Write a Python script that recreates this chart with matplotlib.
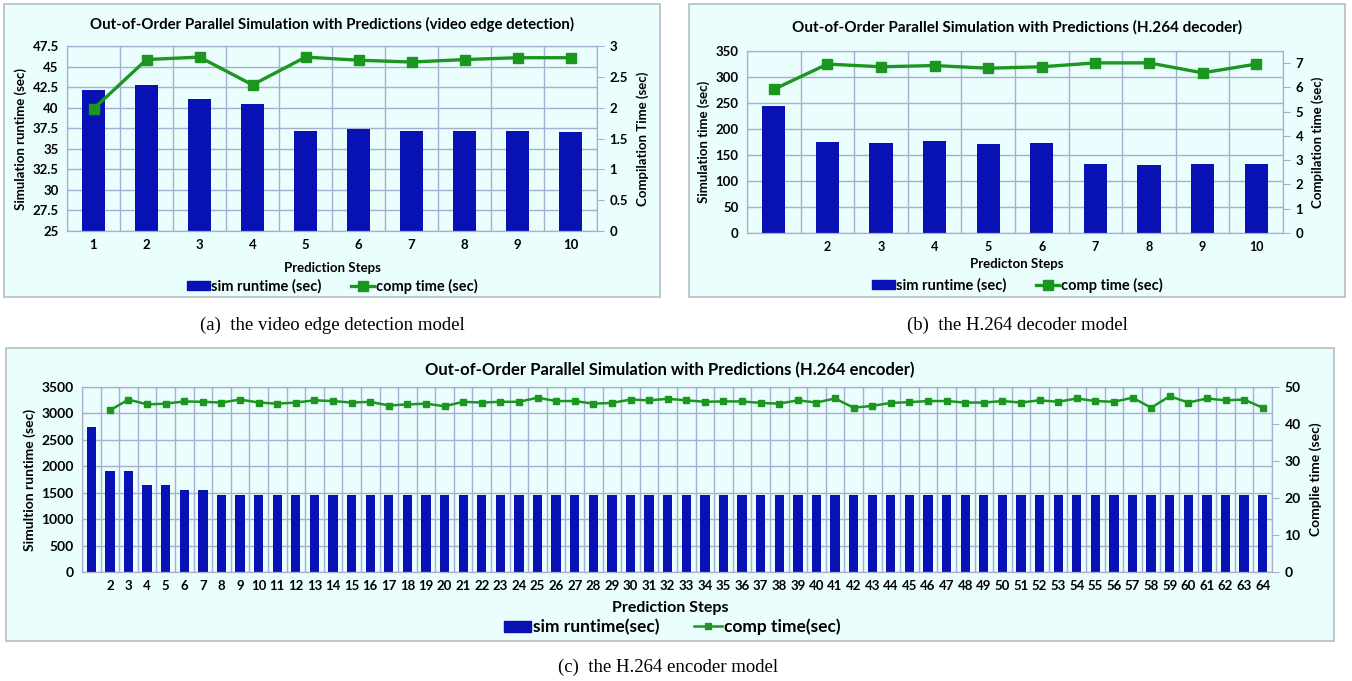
import numpy as np
import matplotlib
matplotlib.use("Agg")
import matplotlib.pyplot as plt
from matplotlib.patches import Rectangle
from matplotlib.lines import Line2D

# figure size in pixels
W = 1352
H = 681

# (a) video edge detection
edge_steps = list(range(1, 11))
edge_labels = [str(s) for s in edge_steps]
edge_sim = [42.2, 42.7, 41.1, 40.5, 37.2, 37.4, 37.2, 37.2, 37.2, 37.1]
edge_comp = [1.98, 2.78, 2.82, 2.37, 2.82, 2.77, 2.74, 2.78, 2.81, 2.81]

# (b) H.264 decoder
dec_steps = list(range(1, 11))
dec_labels = [""] + [str(s) for s in dec_steps[1:]]
dec_sim = [245, 175, 173, 177, 171, 173, 133, 131, 133, 133]
dec_comp = [5.92, 6.96, 6.85, 6.90, 6.79, 6.85, 7.01, 7.01, 6.60, 6.96]

# (c) H.264 encoder
enc_steps = list(range(1, 65))
enc_labels = [""] + [str(s) for s in enc_steps[1:]]
enc_sim = [2750, 1920, 1920, 1650, 1650, 1550, 1550, 1450, 1450, 1450,
           1460, 1450, 1460, 1460, 1460, 1460, 1460, 1460, 1460, 1460,
           1460, 1460, 1460, 1460, 1460, 1460, 1460, 1460, 1460, 1460,
           1460, 1460, 1460, 1460, 1460, 1460, 1460, 1460, 1460, 1460,
           1460, 1460, 1460, 1460, 1460, 1460, 1460, 1460, 1460, 1460,
           1460, 1460, 1460, 1460, 1460, 1460, 1460, 1460, 1460, 1460,
           1460, 1460, 1450, 1450]
enc_comp = [None, 43.7, 46.6, 45.3, 45.5, 46.1, 46.0, 45.8, 46.6, 45.8,
            45.5, 45.8, 46.4, 46.2, 45.8, 46.0, 45.0, 45.3, 45.5, 44.8,
            46.0, 45.8, 46.0, 46.0, 47.1, 46.2, 46.2, 45.5, 45.7, 46.6,
            46.4, 46.8, 46.4, 46.0, 46.1, 46.1, 45.7, 45.5, 46.4, 45.8,
            46.9, 44.4, 44.9, 45.7, 45.9, 46.2, 46.2, 45.8, 45.8, 46.2,
            45.8, 46.4, 46.0, 46.9, 46.2, 46.0, 47.1, 44.4, 47.5, 45.8,
            46.9, 46.4, 46.6, 44.4]

BG = "#EAFEFE"
GRID = "#A7AECF"
BAR = "#0812B4"
GREEN = "#1B961E"

plt.rcParams["font.family"] = ["Lato", "DejaVu Sans"]

fig = plt.figure(figsize=(W / 100, H / 100), dpi=100)
fig.patch.set_facecolor("white")


def fx(x):
    return x / W


def fy(y):
    return 1 - y / H


def box(l, t, r, b):
    fig.add_artist(Rectangle((fx(l), fy(b)), (r - l) / W, (b - t) / H,
                             transform=fig.transFigure, facecolor=BG,
                             edgecolor="#B3BEC2", linewidth=1.2, zorder=0))


def panel(rect, steps, labels, sim, comp, ylim, yticks, rlim, rticks,
          barw, lw, ms, fs, xfs, lfs, ylab, rlab):
    l, t, r, b = rect
    ax = fig.add_axes([fx(l), fy(b), (r - l) / W, (b - t) / H])
    ax.set_facecolor(BG)
    ax.bar(steps, sim, width=barw, color=BAR, zorder=2)
    ax.set_xlim(0.5, len(steps) + 0.5)
    ax.set_ylim(*ylim)
    ax.set_yticks(yticks)
    ax.set_yticklabels([fmt_num(v) for v in yticks], fontsize=fs, fontweight="bold")
    ax.set_xticks(steps)
    ax.set_xticklabels(labels, fontsize=xfs, fontweight="bold")
    ax.set_xticks(np.arange(0.5, len(steps) + 1, 1.0), minor=True)
    ax.grid(True, axis="y", which="major", color=GRID, linewidth=1.0)
    ax.grid(True, axis="x", which="minor", color=GRID, linewidth=1.0)
    ax.grid(False, axis="x", which="major")
    ax.set_axisbelow(True)
    ax.tick_params(axis="both", which="both", length=0, pad=6)
    ax.set_ylabel(ylab, fontsize=lfs, fontweight="bold", labelpad=4)
    for s in ax.spines.values():
        s.set_color(GRID)

    ax2 = ax.twinx()
    ax2.plot(steps, comp, color=GREEN, linewidth=lw, marker="s",
             markersize=ms, markerfacecolor=GREEN, markeredgecolor=GREEN)
    ax2.set_ylim(*rlim)
    ax2.set_yticks(rticks)
    ax2.set_yticklabels([fmt_num(v) for v in rticks], fontsize=fs, fontweight="bold")
    ax2.tick_params(axis="y", length=5, color=GRID, pad=4)
    ax2.set_ylabel(rlab, fontsize=lfs, fontweight="bold", labelpad=6)
    for s in ax2.spines.values():
        s.set_color(GRID)
    return ax, ax2


def fmt_num(v):
    if v == int(v):
        return str(int(v))
    return str(v)


def legend(x, y, fs, lw, ms, sim_name, comp_name):
    handles = [Rectangle((0, 0), 1, 1, color=BAR),
               Line2D([], [], color=GREEN, linewidth=lw, marker="s",
                      markersize=ms)]
    fig.legend(handles, [sim_name, comp_name], loc="center",
               bbox_to_anchor=(fx(x), fy(y)), ncol=2, frameon=False,
               prop={"size": fs, "weight": "bold"}, handlelength=1.6,
               handleheight=0.6, handletextpad=0.1, columnspacing=2.0)


# panel boxes
box(4, 4, 660, 297)
box(689, 4, 1345, 297)
box(6, 348, 1334, 641)

# (a)
panel((67, 46, 597, 231), edge_steps, edge_labels, edge_sim, edge_comp,
      (25, 47.5), np.arange(25, 47.6, 2.5), (0, 3), np.arange(0, 3.01, 0.5),
      0.42, 2.4, 7, 9.5, 9.5, 9.5, "Simulation runtime (sec)", "Compilation Time (sec)")
fig.text(fx(332), fy(24), "Out-of-Order Parallel Simulation with Predictions (video edge detection)",
         ha="center", va="center", fontsize=10.8, fontweight="bold")
fig.text(fx(332), fy(268), "Prediction Steps", ha="center", va="center",
         fontsize=9.5, fontweight="bold")
legend(332, 286, 10.5, 2.4, 7, "sim runtime (sec)", "comp time (sec)")

# (b)
panel((747, 51, 1283, 233), dec_steps, dec_labels, dec_sim, dec_comp,
      (0, 350), np.arange(0, 351, 50), (0, 7.5), np.arange(0, 8, 1),
      0.43, 2.4, 7, 9.5, 9, 9.5, "Simulation time (sec)", "Compilation time (sec)")
fig.text(fx(1017), fy(27), "Out-of-Order Parallel Simulation with Predictions (H.264 decoder)",
         ha="center", va="center", fontsize=11, fontweight="bold")
fig.text(fx(1017), fy(264), "Predicton Steps", ha="center", va="center",
         fontsize=9.5, fontweight="bold")
legend(1017, 285, 10.5, 2.4, 7, "sim runtime (sec)", "comp time (sec)")

# (c)
enc_comp_arr = np.array([np.nan if v is None else v for v in enc_comp], dtype=float)
panel((82, 387, 1272, 572), enc_steps, enc_labels, enc_sim, enc_comp_arr,
      (0, 3500), np.arange(0, 3501, 500), (0, 50), np.arange(0, 51, 10),
      0.5, 1.8, 4.5, 10, 9.5, 10, "Simultion runtime (sec)", "Complie time (sec)")
fig.text(fx(670), fy(370), "Out-of-Order Parallel Simulation with Predictions (H.264 encoder)",
         ha="center", va="center", fontsize=12, fontweight="bold")
fig.text(fx(670), fy(608), "Prediction Steps", ha="center", va="center",
         fontsize=11.5, fontweight="bold")
legend(672, 627, 12.5, 1.8, 4.5, "sim runtime(sec)", "comp time(sec)")

# captions
fig.text(fx(332), fy(325), "(a)  the video edge detection model", ha="center", va="center",
         fontsize=13.5, family="Liberation Serif")
fig.text(fx(1017), fy(325), "(b)  the H.264 decoder model", ha="center", va="center",
         fontsize=13.5, family="Liberation Serif")
fig.text(fx(668), fy(667), "(c)  the H.264 encoder model", ha="center", va="center",
         fontsize=13.5, family="Liberation Serif")

fig.savefig("out.png", dpi=100)
